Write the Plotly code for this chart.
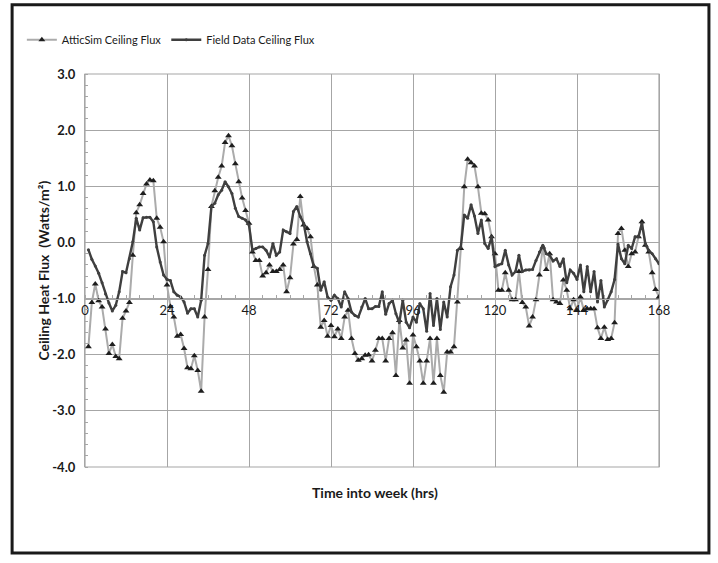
import plotly.graph_objects as go

hours = list(range(1, 169))

atticsim_flux = [
    -1.86, -1.07, -0.74, -1.04, -1.15, -1.54, -1.98, -1.82, -2.03, -2.07,
    -1.35, -1.22, -1.07, -0.23, 0.53, 0.67, 0.87, 1.04, 1.11, 1.10,
    0.43, 0.27, 0.01, -0.76, -1.14, -1.33, -1.67, -1.64, -1.89, -2.23,
    -2.25, -2.02, -2.28, -2.65, -1.33, -0.48, 0.64, 0.92, 1.16, 1.36,
    1.78, 1.90, 1.72, 1.40, 1.08, 0.79, 0.57, 0.34, -0.17, -0.32,
    -0.32, -0.60, -0.54, -0.40, -0.52, -0.52, -0.48, -0.40, -0.88, -0.63,
    -0.03, 0.05, 0.82, 0.31, 0.25, 0.10, -0.43, -0.76, -1.51, -1.39,
    -1.67, -1.48, -1.68, -1.54, -1.71, -1.33, -1.21, -1.71, -1.98, -2.10,
    -2.07, -2.01, -2.00, -2.11, -1.92, -1.71, -1.71, -2.11, -1.71, -1.61,
    -2.37, -1.39, -1.88, -1.74, -2.51, -1.65, -1.86, -2.11, -2.51, -2.11,
    -1.71, -2.51, -1.71, -2.37, -2.67, -1.95, -1.95, -1.86, -1.06, -0.11,
    0.99, 1.48, 1.42, 1.36, 0.99, 0.52, 0.51, 0.40, 0.10, -0.20,
    -0.85, -0.85, -0.54, -0.85, -1.02, -1.02, -0.52, -1.07, -1.15, -1.49,
    -1.33, -1.02, -0.58, -0.08, -0.48, -0.20, -1.02, -1.06, -1.09, -0.67,
    -0.85, -1.18, -1.02, -1.21, -0.97, -1.21, -1.18, -1.18, -1.18, -1.52,
    -1.71, -1.51, -1.73, -1.71, -1.43, 0.16, 0.25, -0.14, -0.43, -0.20,
    -0.17, 0.10, 0.37, -0.05, -0.17, -0.54, -0.84, -0.97,
]

field_flux = [
    -0.13, -0.30, -0.42, -0.55, -0.72, -0.92, -1.08, -1.22, -1.12, -0.88,
    -0.52, -0.54, -0.29, 0.01, 0.43, 0.22, 0.44, 0.45, 0.45, 0.37,
    -0.08, -0.35, -0.58, -0.66, -0.68, -0.88, -0.94, -0.97, -1.06, -1.26,
    -1.18, -1.18, -1.33, -1.03, -0.23, -0.02, 0.64, 0.70, 0.85, 0.93,
    1.08, 0.99, 0.87, 0.61, 0.46, 0.43, 0.40, 0.31, -0.14, -0.11,
    -0.08, -0.08, -0.14, -0.26, -0.02, -0.23, -0.17, 0.22, 0.19, 0.16,
    0.55, 0.64, 0.46, 0.34, 0.01, -0.20, -0.43, -0.46, -0.85, -0.70,
    -0.97, -1.03, -0.94, -1.00, -1.15, -0.88, -1.00, -1.24, -1.30, -1.33,
    -1.15, -1.00, -1.18, -1.18, -1.14, -1.14, -0.88, -1.28, -1.09, -1.03,
    -1.27, -1.43, -1.03, -1.42, -1.52, -1.33, -1.42, -1.09, -1.18, -1.58,
    -0.91, -1.48, -1.00, -1.55, -1.06, -1.33, -0.79, -0.58, -0.14, -0.08,
    0.49, 0.43, 0.67, 0.47, 0.16, 0.40, -0.02, -0.11, 0.10, -0.43,
    -0.40, -0.38, -0.14, -0.40, -0.58, -0.52, -0.23, -0.52, -0.49, -0.49,
    -0.48, -0.32, -0.17, -0.05, -0.20, -0.23, -0.33, -0.29, -0.43, -0.29,
    -0.72, -0.49, -0.55, -0.66, -0.40, -0.88, -0.43, -0.88, -0.52, -1.06,
    -0.68, -1.15, -1.02, -0.88, -0.66, -0.03, -0.29, -0.38, -0.05, -0.11,
    0.10, 0.10, 0.34, -0.02, -0.14, -0.20, -0.29, -0.38,
]

x_ticks = [0, 24, 48, 72, 96, 120, 144, 168]
y_ticks = [3, 2, 1, 0, -1, -2, -3, -4]

FONT = "Lato, 'Open Sans', sans-serif"
GRID = "#a6a6a6"

fig = go.Figure()
fig.add_trace(go.Scatter(
    x=hours, y=atticsim_flux, name="AtticSim Ceiling Flux",
    mode="lines+markers",
    line=dict(color="#ababab", width=2),
    marker=dict(symbol="triangle-up", size=6, color="#1e1e1e"),
))
fig.add_trace(go.Scatter(
    x=hours, y=field_flux, name="Field Data Ceiling Flux",
    mode="lines+markers",
    line=dict(color="#3f3f3f", width=2.4),
    marker=dict(symbol="circle", size=3, color="#3f3f3f"),
))

fig.update_layout(
    width=718, height=563,
    margin=dict(l=85, r=59, t=74, b=96),
    paper_bgcolor="white", plot_bgcolor="white",
    font=dict(family=FONT, color="#1a1a1a"),
    showlegend=True,
    legend=dict(orientation="h", x=-0.11, y=1.087, xanchor="left", yanchor="middle",
                font=dict(size=11, family=FONT), itemwidth=30, tracegroupgap=0,
                bgcolor="rgba(0,0,0,0)"),
    xaxis=dict(
        range=[0, 168], tickmode="array", tickvals=x_ticks,
        ticktext=[str(v) for v in x_ticks],
        showgrid=True, gridcolor=GRID, gridwidth=1.2,
        zeroline=False,
        anchor="free", position=3 / 7,
        showline=True, linecolor=GRID, linewidth=1.2,
        ticks="", tickfont=dict(size=13, family=FONT, color="#1a1a1a"),
        minor=dict(dtick=4, ticks="inside", ticklen=3, tickcolor=GRID, showgrid=False),
    ),
    yaxis=dict(
        range=[-4, 3], tickmode="array", tickvals=y_ticks,
        ticktext=[f"{v:.1f}" for v in y_ticks],
        showgrid=True, gridcolor=GRID, gridwidth=1.2,
        zeroline=False,
        showline=True, linecolor=GRID, linewidth=1.2, mirror=True,
        ticks="", ticklabelstandoff=6,
        tickfont=dict(size=13, family=FONT, color="#1a1a1a", weight="bold"),
        minor=dict(dtick=0.2, ticks="inside", ticklen=3, tickcolor=GRID, showgrid=False),
    ),
    shapes=[
        dict(type="rect", xref="paper", yref="paper", x0=0, y0=0, x1=1, y1=1,
             line=dict(color=GRID, width=1.2), layer="below"),
        dict(type="rect", xref="paper", yref="paper", x0=-0.127, y0=-0.219, x1=1.087, y1=1.176,
             line=dict(color="#1a1a1a", width=3)),
    ],
    annotations=[
        dict(text="<b>Time into week (hrs)</b>", xref="paper", yref="paper",
             x=0.505, y=-0.066, showarrow=False, font=dict(size=14, family=FONT),
             xanchor="center", yanchor="middle"),
        dict(text="<b>Ceiling Heat Flux  (Watts/m²)</b>", xref="paper", yref="paper",
             x=-0.073, y=0.5, showarrow=False, textangle=-90, font=dict(size=14, family=FONT),
             xanchor="center", yanchor="middle"),
    ],
)

fig.write_html("out.html")
